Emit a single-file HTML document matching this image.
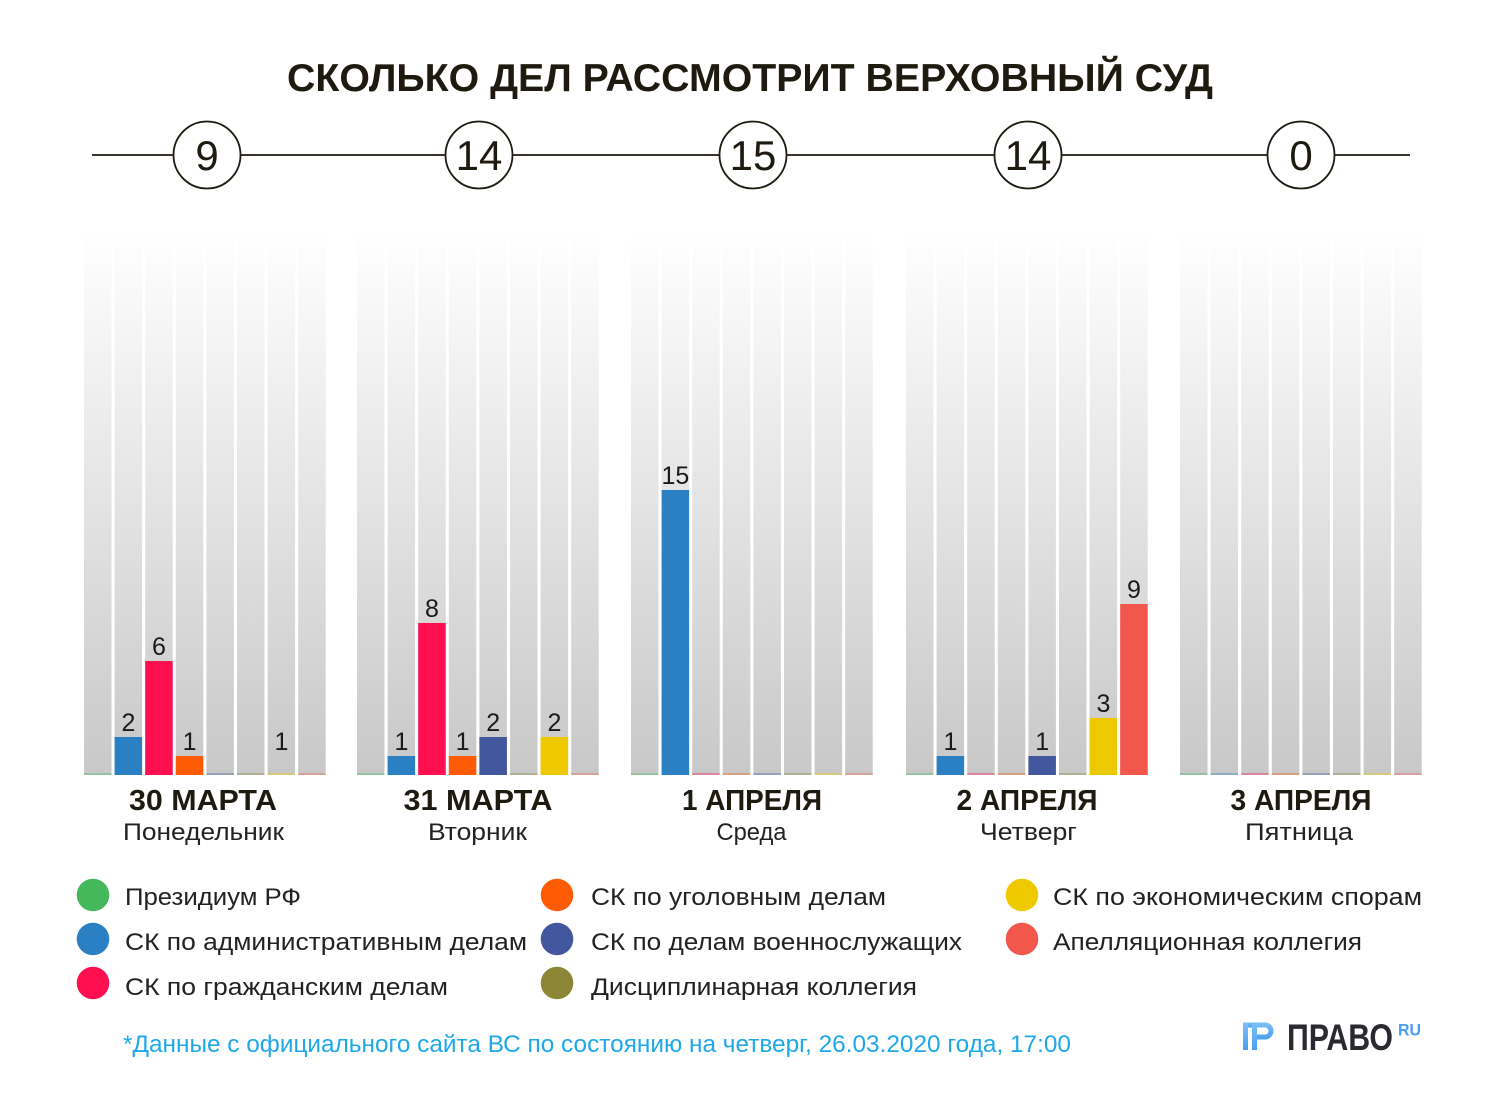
<!DOCTYPE html>
<html>
<head>
<meta charset="utf-8">
<style>
html,body{margin:0;padding:0;background:#fff;}
svg{display:block;}
text{font-family:"Liberation Sans","DejaVu Sans",sans-serif;}
</style>
</head>
<body>
<svg width="1500" height="1104" viewBox="0 0 1500 1104" xmlns="http://www.w3.org/2000/svg">
<defs>
<linearGradient id="col" gradientUnits="userSpaceOnUse" x1="0" y1="229" x2="0" y2="775">
<stop offset="0" stop-color="#ffffff"/>
<stop offset="1" stop-color="#c8c8c8"/>
</linearGradient>
<linearGradient id="logo" x1="0" y1="0" x2="0" y2="1">
<stop offset="0" stop-color="#7cc0f8"/>
<stop offset="1" stop-color="#4a9ef0"/>
</linearGradient>
</defs>
<rect width="1500" height="1104" fill="#fff"/>

<!-- Title -->
<text x="750" y="91" text-anchor="middle" font-size="39" font-weight="bold" fill="#1e1a10" textLength="926" lengthAdjust="spacingAndGlyphs">СКОЛЬКО ДЕЛ РАССМОТРИТ ВЕРХОВНЫЙ СУД</text>

<!-- Timeline -->
<line x1="92" y1="155" x2="1410" y2="155" stroke="#1e1a10" stroke-width="1.8"/>
<g fill="#fff" stroke="#1e1a10" stroke-width="1.8">
<circle cx="207" cy="155" r="33.5"/>
<circle cx="479" cy="155" r="33.5"/>
<circle cx="753" cy="155" r="33.5"/>
<circle cx="1028" cy="155" r="33.5"/>
<circle cx="1301" cy="155" r="33.5"/>
</g>
<g font-size="42" fill="#1e1a10" text-anchor="middle">
<text x="207" y="170">9</text>
<text x="479" y="170">14</text>
<text x="753" y="170">15</text>
<text x="1028" y="170">14</text>
<text x="1301" y="170">0</text>
</g>

<!-- Columns backgrounds -->
<g fill="url(#col)">
<rect x="84" y="229" width="27.5" height="546"/><rect x="114.6" y="229" width="27.5" height="546"/><rect x="145.2" y="229" width="27.5" height="546"/><rect x="175.8" y="229" width="27.5" height="546"/><rect x="206.4" y="229" width="27.5" height="546"/><rect x="237" y="229" width="27.5" height="546"/><rect x="267.6" y="229" width="27.5" height="546"/><rect x="298.2" y="229" width="27.5" height="546"/>
<rect x="357" y="229" width="27.5" height="546"/><rect x="387.6" y="229" width="27.5" height="546"/><rect x="418.2" y="229" width="27.5" height="546"/><rect x="448.8" y="229" width="27.5" height="546"/><rect x="479.4" y="229" width="27.5" height="546"/><rect x="510" y="229" width="27.5" height="546"/><rect x="540.6" y="229" width="27.5" height="546"/><rect x="571.2" y="229" width="27.5" height="546"/>
<rect x="631" y="229" width="27.5" height="546"/><rect x="661.6" y="229" width="27.5" height="546"/><rect x="692.2" y="229" width="27.5" height="546"/><rect x="722.8" y="229" width="27.5" height="546"/><rect x="753.4" y="229" width="27.5" height="546"/><rect x="784" y="229" width="27.5" height="546"/><rect x="814.6" y="229" width="27.5" height="546"/><rect x="845.2" y="229" width="27.5" height="546"/>
<rect x="906" y="229" width="27.5" height="546"/><rect x="936.6" y="229" width="27.5" height="546"/><rect x="967.2" y="229" width="27.5" height="546"/><rect x="997.8" y="229" width="27.5" height="546"/><rect x="1028.4" y="229" width="27.5" height="546"/><rect x="1059" y="229" width="27.5" height="546"/><rect x="1089.6" y="229" width="27.5" height="546"/><rect x="1120.2" y="229" width="27.5" height="546"/>
<rect x="1180" y="229" width="27.5" height="546"/><rect x="1210.6" y="229" width="27.5" height="546"/><rect x="1241.2" y="229" width="27.5" height="546"/><rect x="1271.8" y="229" width="27.5" height="546"/><rect x="1302.4" y="229" width="27.5" height="546"/><rect x="1333" y="229" width="27.5" height="546"/><rect x="1363.6" y="229" width="27.5" height="546"/><rect x="1394.2" y="229" width="27.5" height="546"/>
</g>

<!-- faint base lines -->
<g opacity="0.35">
<g id="bl1">
<rect x="84" y="773" width="27.5" height="2" fill="#45b85c"/><rect x="114.6" y="773" width="27.5" height="2" fill="#2b80c4"/><rect x="145.2" y="773" width="27.5" height="2" fill="#ff0f4f"/><rect x="175.8" y="773" width="27.5" height="2" fill="#ff5b05"/><rect x="206.4" y="773" width="27.5" height="2" fill="#43579e"/><rect x="237" y="773" width="27.5" height="2" fill="#8c8636"/><rect x="267.6" y="773" width="27.5" height="2" fill="#eec900"/><rect x="298.2" y="773" width="27.5" height="2" fill="#f2574b"/>
</g>
<use href="#bl1" x="273"/>
<use href="#bl1" x="547"/>
<use href="#bl1" x="822"/>
<use href="#bl1" x="1096"/>
</g>

<!-- Bars -->
<g>
<rect x="114.6" y="737" width="27.5" height="38" fill="#2b80c4"/>
<rect x="145.2" y="661" width="27.5" height="114" fill="#ff0f4f"/>
<rect x="175.8" y="756" width="27.5" height="19" fill="#ff5b05"/>

<rect x="387.6" y="756" width="27.5" height="19" fill="#2b80c4"/>
<rect x="418.2" y="623" width="27.5" height="152" fill="#ff0f4f"/>
<rect x="448.8" y="756" width="27.5" height="19" fill="#ff5b05"/>
<rect x="479.4" y="737" width="27.5" height="38" fill="#43579e"/>
<rect x="540.6" y="737" width="27.5" height="38" fill="#eec900"/>

<rect x="661.6" y="490" width="27.5" height="285" fill="#2b80c4"/>

<rect x="936.6" y="756" width="27.5" height="19" fill="#2b80c4"/>
<rect x="1028.4" y="756" width="27.5" height="19" fill="#43579e"/>
<rect x="1089.6" y="718" width="27.5" height="57" fill="#eec900"/>
<rect x="1120.2" y="604" width="27.5" height="171" fill="#f2574b"/>
</g>

<!-- Bar labels -->
<g font-size="25" fill="#1a1a1a" text-anchor="middle">
<text x="128.4" y="731">2</text>
<text x="159" y="655">6</text>
<text x="189.6" y="750">1</text>
<text x="281.4" y="750">1</text>

<text x="401.4" y="750">1</text>
<text x="432" y="617">8</text>
<text x="462.6" y="750">1</text>
<text x="493.2" y="731">2</text>
<text x="554.4" y="731">2</text>

<text x="675.4" y="484">15</text>

<text x="950.4" y="750">1</text>
<text x="1042.2" y="750">1</text>
<text x="1103.4" y="712">3</text>
<text x="1134" y="598">9</text>
</g>

<!-- Date labels -->
<g font-size="29" font-weight="bold" fill="#1e1a10" text-anchor="middle">
<text x="203" y="810" textLength="148" lengthAdjust="spacingAndGlyphs">30 МАРТА</text>
<text x="478" y="810" textLength="149" lengthAdjust="spacingAndGlyphs">31 МАРТА</text>
<text x="752" y="810" textLength="140" lengthAdjust="spacingAndGlyphs">1 АПРЕЛЯ</text>
<text x="1027" y="810" textLength="141" lengthAdjust="spacingAndGlyphs">2 АПРЕЛЯ</text>
<text x="1301" y="810" textLength="141" lengthAdjust="spacingAndGlyphs">3 АПРЕЛЯ</text>
</g>
<g font-size="24" fill="#222" text-anchor="middle">
<text x="203.5" y="840" textLength="161" lengthAdjust="spacingAndGlyphs">Понедельник</text>
<text x="477.5" y="840" textLength="99" lengthAdjust="spacingAndGlyphs">Вторник</text>
<text x="751.5" y="840" textLength="70" lengthAdjust="spacingAndGlyphs">Среда</text>
<text x="1028.5" y="840" textLength="97" lengthAdjust="spacingAndGlyphs">Четверг</text>
<text x="1299" y="840" textLength="108" lengthAdjust="spacingAndGlyphs">Пятница</text>
</g>

<!-- Legend -->
<g>
<circle cx="93" cy="895" r="16.3" fill="#45b85c"/>
<circle cx="93" cy="939" r="16.3" fill="#2b80c4"/>
<circle cx="93" cy="983" r="16.3" fill="#ff0f4f"/>
<circle cx="557" cy="895" r="16.3" fill="#ff5b05"/>
<circle cx="557" cy="939" r="16.3" fill="#43579e"/>
<circle cx="557" cy="983" r="16.3" fill="#8c8636"/>
<circle cx="1022" cy="895" r="16.3" fill="#eec900"/>
<circle cx="1022" cy="939" r="16.3" fill="#f2574b"/>
</g>
<g font-size="24" fill="#222">
<text x="125" y="905" textLength="176" lengthAdjust="spacingAndGlyphs">Президиум РФ</text>
<text x="125" y="950" textLength="402" lengthAdjust="spacingAndGlyphs">СК по административным делам</text>
<text x="125" y="995" textLength="323" lengthAdjust="spacingAndGlyphs">СК по гражданским делам</text>
<text x="591" y="905" textLength="295" lengthAdjust="spacingAndGlyphs">СК по уголовным делам</text>
<text x="591" y="950" textLength="371" lengthAdjust="spacingAndGlyphs">СК по делам военнослужащих</text>
<text x="591" y="995" textLength="326" lengthAdjust="spacingAndGlyphs">Дисциплинарная коллегия</text>
<text x="1053" y="905" textLength="369" lengthAdjust="spacingAndGlyphs">СК по экономическим спорам</text>
<text x="1053" y="950" textLength="309" lengthAdjust="spacingAndGlyphs">Апелляционная коллегия</text>
</g>

<!-- Footnote -->
<text x="123" y="1052" font-size="24" fill="#1ea8e8" textLength="948" lengthAdjust="spacingAndGlyphs">*Данные с официального сайта ВС по состоянию на четверг, 26.03.2020 года, 17:00</text>

<!-- Logo -->
<g fill="url(#logo)">
<rect x="1243" y="1022.5" width="20" height="5"/>
<rect x="1243" y="1022.5" width="5" height="27.5"/>
<rect x="1252" y="1022.5" width="5" height="27.5"/>
<path d="M1257 1022.5 H1265 A8.5 8.5 0 0 1 1265 1039.5 H1257 V1034.5 H1265 A3.5 3.5 0 0 0 1265 1027.5 H1257 Z"/>
</g>
<text x="1287" y="1050" font-size="37" font-weight="bold" fill="#2a2a30" textLength="106" lengthAdjust="spacingAndGlyphs">ПРАВО</text>
<text x="1398" y="1035.5" font-size="17" font-weight="bold" fill="#4a9ef0" textLength="23" lengthAdjust="spacingAndGlyphs">RU</text>
</svg>
</body>
</html>
